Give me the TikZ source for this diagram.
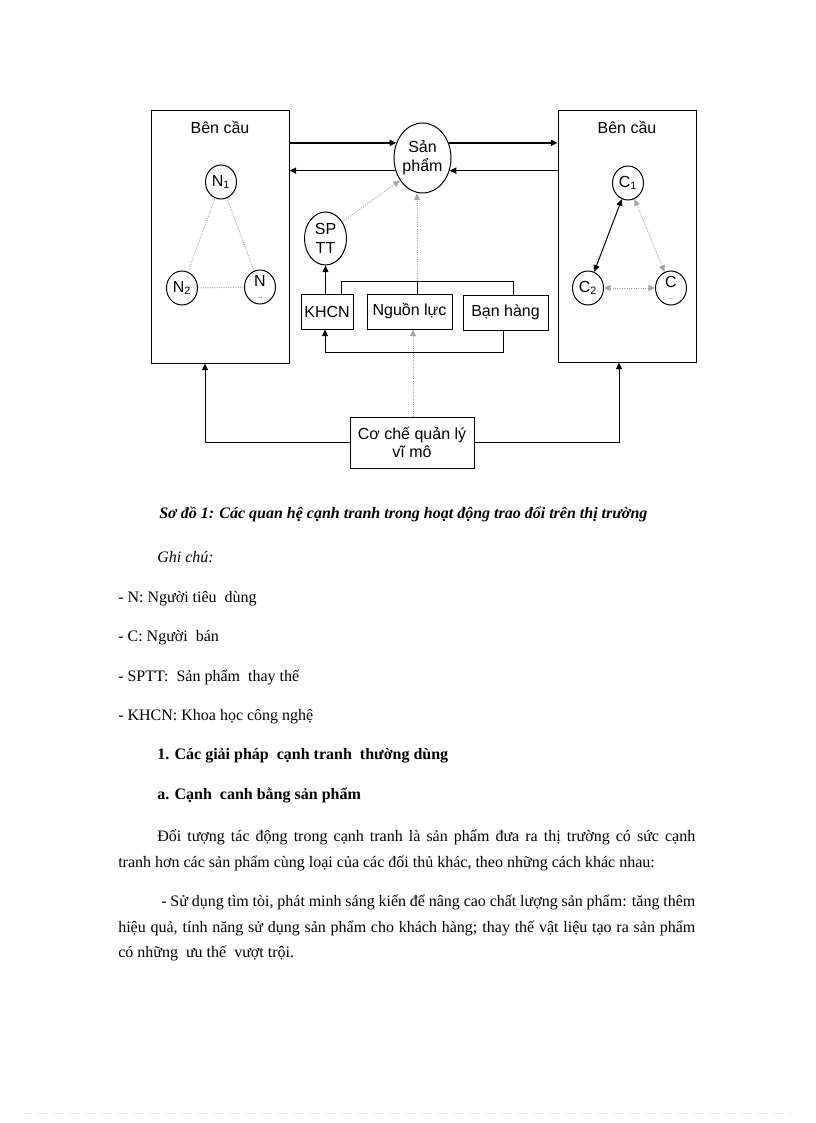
\documentclass[tikz,border=0pt]{standalone}
\usepackage{fontspec}
\setmainfont{Liberation Serif}
\newfontfamily\diagfont{Liberation Sans}
\usetikzlibrary{arrows.meta,shapes.geometric}

\begin{document}
\begin{tikzpicture}[x=0.75pt,y=-0.75pt]
\tikzstyle{every node}+=[inner sep=0pt]
\tikzstyle{lbl}=[font=\diagfont\fontsize{12}{14}\selectfont,align=center]
\tikzstyle{blk}=[draw=black,line width=0.75pt,rectangle,lbl]
\tikzstyle{oval}=[draw=black,line width=0.75pt,ellipse,minimum width=23.25pt,minimum height=25.5pt]
\tikzstyle{arr}=[-{Triangle[length=5pt,width=4.5pt]}]
\tikzstyle{both}=[{Triangle[length=5pt,width=4.5pt]}-{Triangle[length=5pt,width=4.5pt]}]
\tikzstyle{flow}=[black,line width=1.1pt,arr]
\tikzstyle{thin}=[black,line width=0.75pt]
\tikzstyle{dots}=[gray!70,line width=0.75pt,densely dotted]
\tikzstyle{body}=[anchor=base west,font=\fontsize{12}{14}\selectfont]
\useasboundingbox (0,0) rectangle (816,1123);
\fill [white] (0,0) rectangle (816,1123);
% market sides
\node [blk,minimum width=103.5pt,minimum height=189pt] (lbox) at (220,237) {};
\node [blk,minimum width=103.5pt,minimum height=188.25pt] (rbox) at (627,236.5) {};
\node [lbl,anchor=north] (ltitle) at ([yshift=-7.5pt]lbox.north) {Bên cầu};
\node [lbl,anchor=north] (rtitle) at ([yshift=-7.5pt]rbox.north) {Bên cầu};
\node [oval,minimum width=42.75pt,minimum height=52.5pt,label={[lbl]center:Sản\\phẩm}] (sp) at (422.5,158) {};
\node [oval,label={[lbl]center:N\textsubscript{1}}] (n1) at (221,182) {};
\node [oval,label={[lbl]center:N\textsubscript{2}}] (n2) at (182,288) {};
\node [oval,label={[lbl]center:N\\[-5pt]{\tiny ...}}] (nx) at (260,287) {};
\node [oval,label={[lbl]center:C\textsubscript{1}}] (c1) at (628,183) {};
\node [oval,label={[lbl]center:C\textsubscript{2}}] (c2) at (588,288) {};
\node [oval,label={[lbl]center:C\\[-5pt]{\tiny ..}}] (cx) at (671,288) {};
\node [oval,minimum width=31.5pt,minimum height=39.75pt,label={[lbl]center:SP\\TT}] (sptt) at (325.5,238.5) {};
\node [blk,minimum width=39pt,minimum height=26.25pt] (khcn) at (327,311.5) {KHCN};
\node [blk,minimum width=63.75pt,minimum height=26.25pt] (nl) at (409.5,311.5) {Nguồn lực};
\node [blk,minimum width=63.75pt,minimum height=26.25pt] (bh) at (505.5,312.5) {Bạn hàng};
\node [blk,minimum width=93pt,minimum height=38.25pt] (cc) at (412,442.5) {Cơ chế quản lý\\vĩ mô};
\coordinate (topl) at (341,281);
\coordinate (topm) at (417,281);
\coordinate (topr) at (513,281);
\coordinate (botr) at (503,352);
\coordinate (botl) at (325,352);
% flows with the product
\draw [flow] (lbox.east |- sp.150) -- (sp.150);
\draw [flow] (sp.205) -- (lbox.east |- sp.205);
\draw [flow] (sp.30) -- (rbox.west |- sp.30);
\draw [flow] (rbox.west |- sp.335) -- (sp.335);
\draw [dots] (n1) -- (n2);
\draw [dots] (n1) -- (nx);
\draw [dots] (n2) -- (nx);
\draw [thin,both] (c1) -- (c2);
\draw [dots,both] (c1) -- (cx);
\draw [dots,both] (c2) -- (cx);
\draw [dots,arr] (sptt.45) -- (sp.225);
\draw [thin,arr] (khcn.north -| sptt) -- (sptt);
\draw [thin] (topl |- khcn.north) -- (topl) -- (topr) -- (topr |- bh.north);
\draw [thin] (topm) -- (topm |- nl.north);
\draw [dots,arr] (topm) -- (topm |- sp.south);
\draw [thin,arr] (botr |- bh.south) -- (botr) -- (botl) -- (botl |- khcn.south);
\draw [dots,arr] (cc.north -| 413,0) -- (nl.south -| 413,0);
\draw [thin,arr] (cc.west) -| (205,0 |- lbox.south);
\draw [thin,arr] (cc.east) -| (619,0 |- rbox.south);
% text of the page
\node [body,font=\bfseries\itshape\fontsize{12}{14}\selectfont] (cap) at (159,518) {Sơ đồ 1: Các quan hệ cạnh tranh trong hoạt động trao đổi trên thị trường};
\node [body,font=\itshape\fontsize{12}{14}\selectfont] (note) at (157,562) {Ghi chú:};
\node [body] (ln) at (118,602) {- N: Người tiêu\ \ dùng};
\node [body] (lc) at (118,641) {- C: Người\ \ bán};
\node [body] (ls) at (118,681) {- SPTT:\ \ Sản phẩm\ \ thay thế};
\node [body] (lk) at (118,720) {- KHCN: Khoa học công nghệ};
\node [body,font=\bfseries\fontsize{12}{14}\selectfont] (h1) at (157,759) {1. Các giải pháp\ \ cạnh tranh\ \ thường dùng};
\node [body,font=\bfseries\fontsize{12}{14}\selectfont] (h2) at (157,799) {a. Cạnh\ \ canh bằng sản phẩm};
\node [body] (p1) at (157,841) {\makebox[403.5pt][s]{Đối tượng tác động trong cạnh tranh là sản phẩm đưa ra thị trường có sức cạnh}};
\node [body] (p2) at (118,867) {tranh hơn các sản phẩm cùng loại của các đối thủ khác, theo những cách khác nhau:};
\node [body] (p3) at (161,906) {\makebox[400.5pt][s]{- Sử dụng tìm tòi, phát minh sáng kiến để nâng cao chất lượng sản phẩm: tăng thêm}};
\node [body] (p4) at (118,932) {\makebox[432.75pt][s]{hiệu quả, tính năng sử dụng sản phẩm cho khách hàng; thay thế vật liệu tạo ra sản phẩm}};
\node [body] (p5) at (118,957) {có những\ \ ưu thế\ \ vượt trội.};
\draw [gray!35,dotted] (25,1113) -- (791,1113);
\end{tikzpicture}
\end{document}
